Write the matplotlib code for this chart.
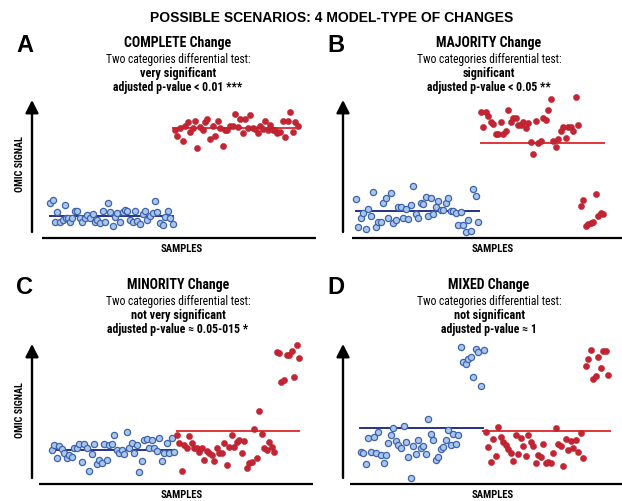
import matplotlib
matplotlib.use("Agg")
import matplotlib.pyplot as plt
from matplotlib import font_manager as fm

# panel A - complete change
a_blue_x = [18, 21, 23, 25, 28, 31, 33, 34, 36, 38, 40, 43, 45, 48, 50, 53, 55, 58, 61, 63,
            65, 68, 71, 73, 76, 78, 81, 83, 85, 88, 91, 93, 95, 98, 101, 103, 105, 108, 111, 113,
            115, 118, 121, 123, 125, 128, 131, 133, 136, 138, 141]
a_blue_y = [35, 38, 16, 26, 16, 18, 33, 20, 20, 16, 20, 27, 27, 20, 16, 20, 23, 20, 24, 16,
            18, 15, 27, 16, 35, 26, 12, 21, 25, 16, 26, 28, 27, 18, 16, 27, 17, 14, 24, 27,
            18, 22, 25, 37, 26, 15, 13, 21, 27, 20, 14]
a_red_x = [143, 145, 148, 151, 153, 156, 158, 161, 163, 165, 168, 171, 173, 175, 178, 181, 183, 186, 188, 191,
           193, 195, 198, 201, 203, 206, 208, 211, 213, 216, 218, 221, 223, 226, 228, 231, 233, 236, 238, 241,
           243, 245, 248, 251, 253, 256, 258, 261, 263, 266]
a_red_y = [108, 102, 110, 97, 112, 116, 106, 110, 117, 90, 111, 108, 116, 119, 99, 112, 102, 117, 110, 92,
           108, 108, 112, 112, 124, 111, 119, 105, 119, 110, 123, 110, 109, 105, 112, 109, 117, 108, 113, 108,
           108, 105, 106, 117, 101, 117, 126, 106, 116, 112]

# panel B - majority change
b_blue_x = [13, 15, 18, 20, 23, 25, 28, 30, 33, 35, 38, 40, 43, 45, 48, 50, 53, 55, 58, 60,
            63, 65, 68, 70, 73, 75, 78, 80, 83, 85, 88, 90, 93, 95, 98, 100, 103, 105, 108, 110,
            113, 115, 118, 120, 123, 125, 128, 130, 133, 135]
b_blue_y = [39, 11, 20, 25, 9, 29, 22, 46, 11, 16, 16, 35, 40, 20, 45, 15, 18, 31, 31, 20,
            29, 19, 33, 52, 24, 20, 35, 34, 41, 22, 40, 24, 31, 37, 28, 28, 35, 40, 27, 27,
            25, 13, 26, 13, 6, 18, 7, 49, 42, 16]
b_red_x = [138, 140, 143, 145, 148, 150, 153, 155, 158, 160, 163, 165, 168, 170, 173, 175, 178, 180, 183, 185,
           188, 190, 193, 195, 198, 200, 203, 205, 208, 210, 213, 215, 218, 220, 223, 225, 228, 230, 233, 235,
           238, 240, 243, 245, 248, 250, 253, 255, 258, 260]
b_red_y = [126, 111, 126, 122, 116, 114, 104, 104, 116, 104, 107, 128, 116, 120, 120, 113, 113, 116, 110, 115,
           96, 84, 117, 95, 97, 120, 118, 128, 139, 97, 91, 99, 107, 111, 100, 111, 111, 107, 141, 113,
           32, 38, 12, 14, 15, 16, 44, 22, 25, 24]

# panel C - minority change
c_blue_x = [20, 22, 25, 27, 30, 32, 35, 37, 40, 42, 45, 47, 50, 52, 55, 57, 60, 62, 65, 67,
            70, 72, 75, 77, 80, 82, 85, 87, 90, 92, 95, 97, 100, 102, 105, 107, 110, 112, 115, 117,
            120, 122, 125, 127, 130, 132, 135, 137, 140, 142]
c_blue_y = [34, 39, 26, 38, 35, 31, 26, 29, 27, 36, 36, 40, 22, 40, 36, 13, 30, 40, 20, 24,
            21, 40, 24, 39, 40, 49, 34, 31, 34, 30, 52, 36, 41, 31, 39, 12, 23, 44, 45, 36,
            44, 36, 33, 46, 23, 31, 41, 31, 46, 32]
c_red_x = [145, 147, 150, 152, 155, 157, 160, 162, 165, 167, 170, 172, 175, 177, 180, 182, 185, 187, 190, 192,
           195, 197, 200, 202, 205, 207, 210, 212, 215, 217, 220, 222, 225, 227, 230, 232, 235, 237, 240, 242,
           245, 247, 249, 252, 255, 257, 260, 262, 265, 267]
c_red_y = [49, 41, 13, 39, 36, 48, 41, 36, 36, 32, 36, 24, 33, 31, 29, 23, 36, 31, 31, 41,
           19, 37, 49, 37, 42, 44, 31, 43, 16, 21, 22, 55, 26, 73, 50, 36, 34, 42, 37, 32,
           132, 131, 102, 104, 129, 129, 133, 107, 139, 126]

# panel D - mixed change
d_blue_x = [18, 20, 23, 25, 28, 31, 33, 35, 38, 41, 43, 45, 48, 50, 53, 55, 58, 61, 63, 65,
            68, 70, 73, 75, 78, 80, 83, 85, 88, 90, 93, 95, 98, 100, 103, 105, 108, 110, 113, 115,
            118, 120, 123, 125, 128, 130, 133, 135, 138, 141]
d_blue_y = [32, 31, 20, 46, 32, 47, 31, 52, 29, 21, 29, 41, 49, 56, 43, 39, 36, 58, 42, 27,
            6, 38, 30, 44, 36, 38, 30, 65, 50, 44, 24, 27, 35, 37, 44, 54, 39, 50, 40, 49,
            137, 122, 120, 125, 127, 107, 135, 132, 98, 134]
d_red_x = [143, 145, 148, 150, 153, 155, 158, 160, 163, 165, 168, 170, 173, 175, 178, 180, 183, 185, 188, 190,
           193, 195, 198, 200, 203, 205, 208, 210, 213, 215, 218, 220, 223, 225, 228, 230, 233, 235, 238, 240,
           243, 245, 248, 250, 253, 255, 258, 260, 263, 265]
d_red_y = [52, 37, 22, 45, 28, 57, 47, 42, 39, 35, 31, 23, 49, 30, 46, 38, 28, 49, 42, 38,
           21, 29, 27, 40, 21, 22, 21, 31, 56, 40, 38, 18, 45, 34, 43, 36, 44, 32, 51, 26,
           118, 125, 134, 105, 108, 127, 116, 133, 133, 109]

# group level lines: (x start, x end, level)
a_levels = [(18, 141, 22.3), (141, 266, 110)]
b_levels = [(13, 136, 27.3), (138, 261, 94.7)]
c_levels = [(20, 143, 34), (145, 267, 53.3)]
d_levels = [(17, 140, 55.7), (140, 267, 53.3)]

panels = [
    dict(letter="A", name="COMPLETE Change", verdict="very significant",
         pval="adjusted p-value < 0.01 ***", origin=(32, 238), xaxis=(10, 284), tip=138,
         bx=a_blue_x, by=a_blue_y, rx=a_red_x, ry=a_red_y, levels=a_levels, ylabel=True),
    dict(letter="B", name="MAJORITY Change", verdict="significant",
         pval="adjusted p-value < 0.05 **", origin=(343, 238), xaxis=(9, 279), tip=138,
         bx=b_blue_x, by=b_blue_y, rx=b_red_x, ry=b_red_y, levels=b_levels, ylabel=False),
    dict(letter="C", name="MINORITY Change", verdict="not very significant",
         pval="adjusted p-value \u2248 0.05-015 *", origin=(32, 484), xaxis=(7, 281), tip=140,
         bx=c_blue_x, by=c_blue_y, rx=c_red_x, ry=c_red_y, levels=c_levels, ylabel=True),
    dict(letter="D", name="MIXED Change", verdict="not significant",
         pval="adjusted p-value \u2248 1", origin=(343, 484), xaxis=(7, 279), tip=140,
         bx=d_blue_x, by=d_blue_y, rx=d_red_x, ry=d_red_y, levels=d_levels, ylabel=False),
]

# narrow font for the panel texts, if one is installed
narrow = None
installed = {f.name: f for f in fm.fontManager.ttflist}
for name in ['Liberation Sans Narrow', 'Roboto Condensed', 'Open Sans Condensed',
             'DejaVu Sans Condensed', 'Noto Sans Condensed']:
    if name in installed:
        narrow = dict(family=[name, 'DejaVu Sans'])
        break
if narrow is None:
    for f in fm.fontManager.ttflist:
        if f.name in ('Noto Sans', 'Open Sans', 'Roboto', 'DejaVu Sans') and \
                f.stretch in ('condensed', 'semi-condensed', 'extra-condensed'):
            narrow = dict(family=[f.name, 'DejaVu Sans'], stretch=f.stretch)
            break
if narrow is None:
    narrow = dict(family=['Liberation Sans', 'DejaVu Sans'])
    scale = 0.87
else:
    scale = 1.0

W, H = 622, 501
fig = plt.figure(figsize=(W / 100, H / 100), dpi=100)


def fx(px):
    return px / W


def fy(py):
    return 1 - py / H


fig.text(fx(332), fy(18), "POSSIBLE SCENARIOS: 4 MODEL-TYPE OF CHANGES",
         family=['Liberation Sans', 'DejaVu Sans'], weight='bold', fontsize=10,
         ha='center', va='center')

for p in panels:
    ox, oy = p["origin"]
    ax = fig.add_axes([fx(ox), fy(oy), 280 / W, 150 / H])
    ax.set_xlim(0, 280)
    ax.set_ylim(0, 150)
    ax.axis('off')

    # axes: arrow and baseline
    ax.annotate('', xy=(0, p["tip"]), xytext=(0, 6),
                arrowprops=dict(arrowstyle='-|>,head_length=0.55,head_width=0.28',
                                lw=1.7, color='black', mutation_scale=14,
                                shrinkA=0, shrinkB=0),
                annotation_clip=False)
    ax.plot(p["xaxis"], [0, 0], color='black', lw=1.6, clip_on=False, solid_capstyle='butt')

    (bx0, bx1, bl), (rx0, rx1, rl) = p["levels"]
    ax.plot([bx0, bx1], [bl, bl], color='#25318a', lw=1.4, zorder=2, clip_on=False)
    ax.plot([rx0, rx1], [rl, rl], color='#e2363a', lw=1.4, zorder=2, clip_on=False)

    ax.scatter(p["bx"], p["by"], s=20, facecolor='#a9c7ea', edgecolor='#3e62ae',
               linewidth=0.9, zorder=3, clip_on=False)
    ax.scatter(p["rx"], p["ry"], s=20, facecolor='#c52433', edgecolor='#b01e2c',
               linewidth=0.3, zorder=3, clip_on=False)

    # panel texts
    cx = ox + 146
    ty = oy - 195 if oy < 300 else oy - 199
    fig.text(fx(ox - 16), fy(ty + 2), p["letter"], family=['Liberation Sans', 'DejaVu Sans'],
             weight='bold', fontsize=17, ha='left', va='center')
    fig.text(fx(cx), fy(ty), p["name"], weight='bold', fontsize=10 * scale,
             ha='center', va='center', **narrow)
    fig.text(fx(cx), fy(ty + 17), "Two categories differential test:", fontsize=8.3 * scale,
             ha='center', va='center', **narrow)
    fig.text(fx(cx), fy(ty + 31), p["verdict"], weight='bold', fontsize=8.8 * scale,
             ha='center', va='center', **narrow)
    fig.text(fx(cx), fy(ty + 45), p["pval"], weight='bold', fontsize=8.5 * scale,
             ha='center', va='center', **narrow)
    fig.text(fx(ox + 150), fy(oy + 11), "SAMPLES", weight='bold', fontsize=7.7 * scale,
             ha='center', va='center', **narrow)
    if p["ylabel"]:
        fig.text(fx(ox - 12), fy(oy - 74), "OMIC SIGNAL", weight='bold', fontsize=7.3 * scale,
                 rotation=90, ha='center', va='center', **narrow)

fig.savefig("out.png", dpi=100)
